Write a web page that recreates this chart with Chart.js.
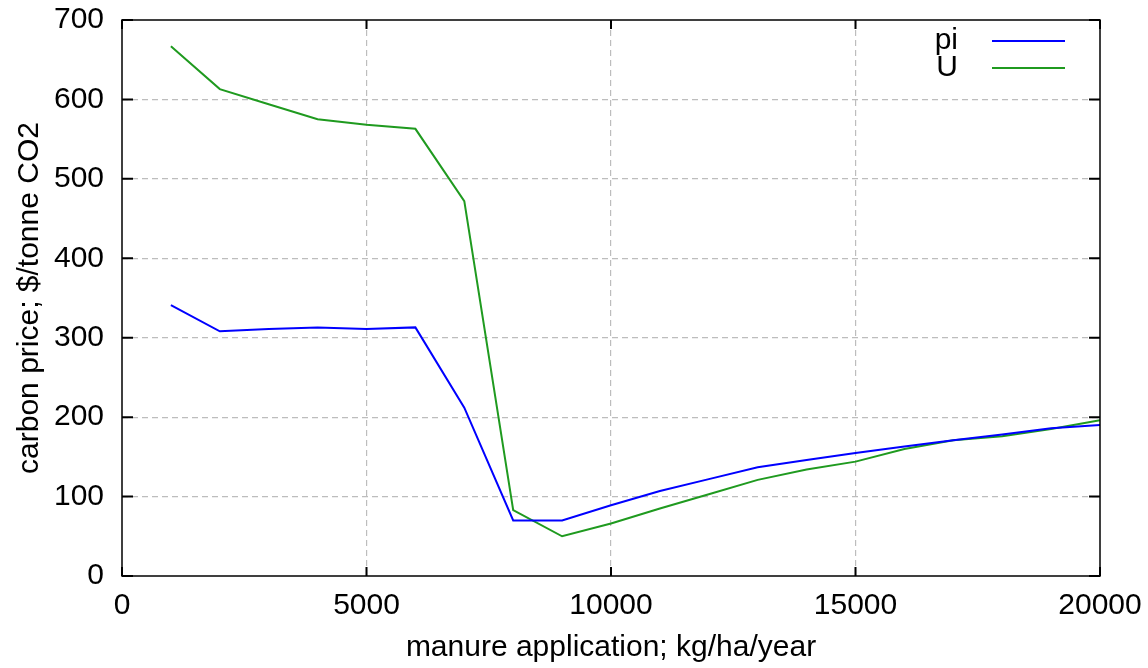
<!DOCTYPE html>
<html>
<head>
<meta charset="utf-8">
<script src="https://cdn.jsdelivr.net/npm/chart.js"></script>
<style>
  html, body { margin: 0; padding: 0; background: #fff; }
  #wrap { width: 1148px; height: 668px; }
</style>
</head>
<body>
<div id="wrap"><canvas id="myChart" width="1148" height="668"></canvas></div>
<script>
const manure = [1000, 2000, 3000, 4000, 5000, 6000, 7000, 8000, 9000, 10000,
  11000, 12000, 13000, 14000, 15000, 16000, 17000, 18000, 19000, 20000];
const piValues = [341, 308, 311, 313, 311, 313, 212, 70, 70, 89,
  107, 122, 137, 146, 155, 163, 171, 178, 186, 190];
const uValues = [667, 613, 594, 575, 568, 563, 472, 83, 50, 66,
  85, 103, 121, 134, 144, 160, 171, 176, 185, 196];
const xTicks = [0, 5000, 10000, 15000, 20000];
const yTicks = [0, 100, 200, 300, 400, 500, 600, 700];

const fontFamily = '"Liberation Sans", Arial, sans-serif';

// gnuplot-like frame, inward ticks and a line-sample legend
const gnuplotLook = {
  id: 'gnuplotLook',
  afterDatasetsDraw(chart) {
    const { ctx, chartArea: a, scales } = chart;
    ctx.save();
    ctx.strokeStyle = '#000';
    ctx.lineWidth = 2;
    ctx.beginPath();
    xTicks.forEach(v => {
      const px = scales.x.getPixelForValue(v);
      ctx.moveTo(px, a.bottom); ctx.lineTo(px, a.bottom - 9);
      ctx.moveTo(px, a.top); ctx.lineTo(px, a.top + 9);
    });
    yTicks.forEach(v => {
      const py = scales.y.getPixelForValue(v);
      ctx.moveTo(a.left, py); ctx.lineTo(a.left + 11, py);
      ctx.moveTo(a.right, py); ctx.lineTo(a.right - 11, py);
    });
    ctx.stroke();
    ctx.lineWidth = 1.5;
    ctx.strokeRect(a.left, a.top, a.right - a.left, a.bottom - a.top);

    // legend
    ctx.font = '30px ' + fontFamily;
    ctx.textAlign = 'right';
    ctx.textBaseline = 'middle';
    chart.data.datasets.forEach((ds, i) => {
      const y = a.top + 21 + i * 27;
      ctx.fillStyle = '#000';
      ctx.fillText(ds.label, a.right - 142, y);
      ctx.strokeStyle = ds.borderColor;
      ctx.lineWidth = 2;
      ctx.beginPath();
      ctx.moveTo(a.right - 108, y);
      ctx.lineTo(a.right - 35, y);
      ctx.stroke();
    });
    ctx.restore();
  }
};

const ctx = document.getElementById('myChart');
new Chart(ctx, {
  type: 'line',
  data: {
    datasets: [
      {
        label: 'pi',
        data: manure.map((x, i) => ({ x: x, y: piValues[i] })),
        borderColor: '#0000ff',
        borderWidth: 2,
        pointRadius: 0,
        tension: 0
      },
      {
        label: 'U',
        data: manure.map((x, i) => ({ x: x, y: uValues[i] })),
        borderColor: '#1f9a1f',
        borderWidth: 2,
        pointRadius: 0,
        tension: 0
      }
    ]
  },
  options: {
    responsive: false,
    animation: false,
    layout: { padding: { top: 20, right: 48, left: 0, bottom: 0 } },
    plugins: {
      legend: { display: false },
      tooltip: { enabled: false }
    },
    scales: {
      x: {
        type: 'linear',
        min: 0,
        max: 20000,
        afterBuildTicks: s => { s.ticks = xTicks.map(v => ({ value: v })); },
        afterFit: s => { s.height = 92; s.paddingLeft = 0; s.paddingRight = 0; },
        grid: {
          color: c => (c.tick.value === 0 || c.tick.value === 20000) ? 'rgba(0,0,0,0)' : '#bdbdbd',
          lineWidth: 1.2,
          drawTicks: false
        },
        border: { display: false, dash: [6, 4] },
        ticks: {
          color: '#000',
          padding: 12,
          maxRotation: 0,
          font: { family: fontFamily, size: 30 },
          callback: v => String(v)
        },
        title: {
          display: true,
          text: 'manure application; kg/ha/year',
          color: '#000',
          font: { family: fontFamily, size: 30 },
          padding: { top: 0, bottom: 2 }
        }
      },
      y: {
        type: 'linear',
        min: 0,
        max: 700,
        afterBuildTicks: s => { s.ticks = yTicks.map(v => ({ value: v })); },
        afterFit: s => { s.width = 122; s.paddingTop = 0; s.paddingBottom = 0; },
        grid: {
          color: c => (c.tick.value === 0 || c.tick.value === 700) ? 'rgba(0,0,0,0)' : '#bdbdbd',
          lineWidth: 1.2,
          drawTicks: false
        },
        border: { display: false, dash: [6, 4] },
        ticks: {
          color: '#000',
          padding: 18,
          font: { family: fontFamily, size: 30 },
          callback: v => String(v)
        },
        title: {
          display: true,
          text: 'carbon price; $/tonne CO2',
          color: '#000',
          font: { family: fontFamily, size: 30 },
          padding: { top: 12, bottom: 0 }
        }
      }
    }
  },
  plugins: [gnuplotLook]
});
</script>
</body>
</html>
